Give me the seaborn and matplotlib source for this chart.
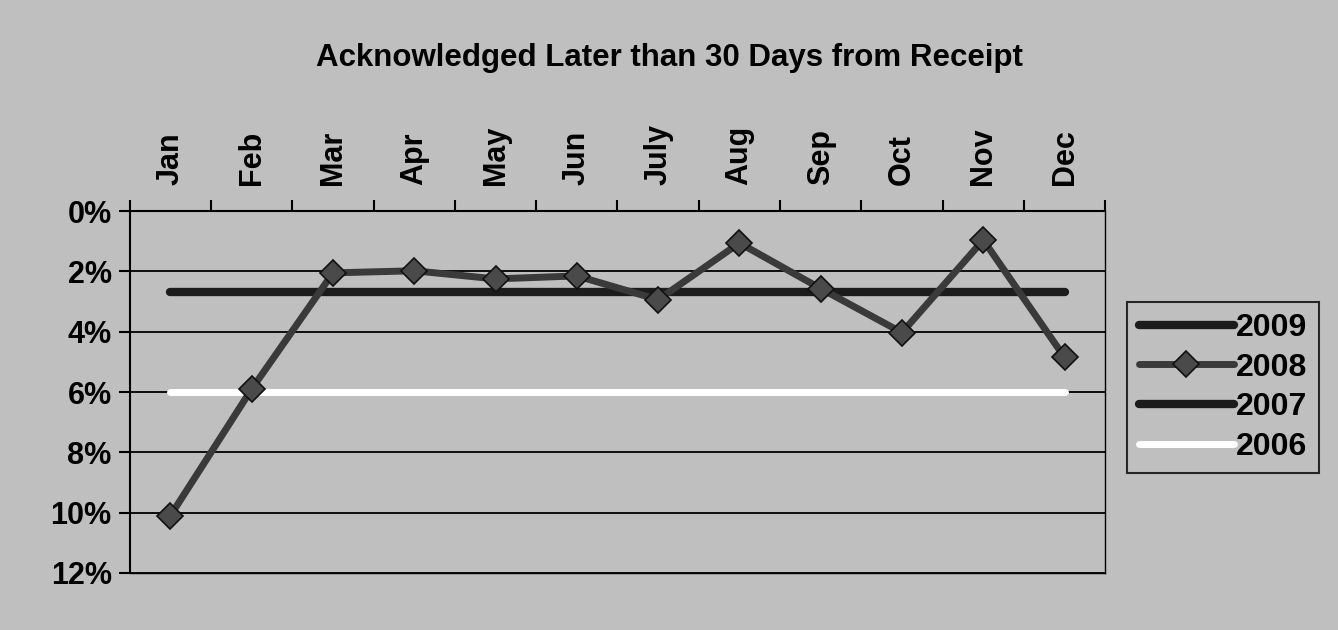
import matplotlib
matplotlib.use("Agg")
import matplotlib.pyplot as plt
import seaborn as sns
import pandas as pd
import numpy as np

months = ["Jan", "Feb", "Mar", "Apr", "May", "Jun", "July", "Aug", "Sep", "Oct", "Nov", "Dec"]
s2009 = [np.nan] * 12
s2008 = [10.1, 5.9, 2.05, 1.98, 2.25, 2.15, 2.94, 1.06, 2.57, 4.03, 0.96, 4.85]
s2007 = [2.7] * 12
s2006 = [6.0] * 12
yticks = [0, 2, 4, 6, 8, 10, 12]

sns.set_theme(style="white")
plt.rcParams["font.family"] = ["Liberation Sans", "DejaVu Sans"]
plt.rcParams["font.weight"] = "bold"
plt.rcParams["text.color"] = "black"
plt.rcParams["xtick.color"] = "black"
plt.rcParams["ytick.color"] = "black"

bg = "#bfbfbf"
fig = plt.figure(figsize=(13.38, 6.3), dpi=100, facecolor=bg)
ax = fig.add_axes([0.097, 0.0905, 0.729, 0.5745])
ax.set_facecolor(bg)

x = np.arange(len(months))
df = pd.DataFrame({"x": np.tile(x, 4),
                   "value": s2009 + s2008 + s2007 + s2006,
                   "year": ["2009"] * 12 + ["2008"] * 12 + ["2007"] * 12 + ["2006"] * 12})

for yv in yticks:
    ax.axhline(yv, color="black", lw=1.3, zorder=1)

sns.lineplot(data=df[df.year == "2006"], x="x", y="value", ax=ax, color="white", lw=5, label="2006", zorder=2)
sns.lineplot(data=df[df.year == "2007"], x="x", y="value", ax=ax, color="#1c1c1c", lw=6, label="2007", zorder=3)
sns.lineplot(data=df[df.year == "2008"], x="x", y="value", ax=ax, color="#3a3a3a", lw=5, label="2008",
             marker="D", markersize=13, markerfacecolor="#4a4a4a", markeredgecolor="#111111",
             markeredgewidth=1.2, zorder=4)
ax.plot([], [], color="#1c1c1c", lw=6, label="2009")

ax.set_xlim(-0.5, 11.5)
ax.set_ylim(12, 0)
ax.set_xlabel("")
ax.set_ylabel("")
ax.xaxis.tick_top()
ax.set_xticks(x)
ax.set_xticklabels(months, rotation=90, fontsize=22, fontweight="bold", va="bottom", color="black")
ax.set_xticks(np.arange(-0.5, 12, 1), minor=True)
ax.tick_params(axis="x", which="major", length=0, pad=18.5)
ax.tick_params(axis="x", which="minor", top=True, length=8, width=1.5, color="black", direction="out")
ax.set_yticks(yticks)
ax.set_yticklabels([f"{v}%" for v in yticks], fontsize=22, fontweight="bold", color="black")
ax.tick_params(axis="y", left=True, length=8, width=1.5, color="black", direction="out", pad=5)
for side, sp in ax.spines.items():
    sp.set_visible(True)
    sp.set_color("black")
    sp.set_linewidth(1.5 if side in ("left", "top") else 1.0)

ax.get_legend().remove()
handles, labels = ax.get_legend_handles_labels()
order = ["2009", "2008", "2007", "2006"]
hmap = dict(zip(labels, handles))
leg = fig.legend([hmap[k] for k in order], order, loc="center", bbox_to_anchor=(0.914, 0.385),
                 prop={"weight": "bold", "size": 23}, frameon=True, fancybox=False,
                 facecolor=bg, edgecolor="black", handlelength=3.0, handletextpad=0.05,
                 labelspacing=0.3, borderpad=0.35, borderaxespad=0)
leg.get_frame().set_linewidth(1.5)
for t in leg.get_texts():
    t.set_color("black")

fig.text(0.5, 0.908, "Acknowledged Later than 30 Days from Receipt", ha="center", va="center",
         fontsize=22.5, fontweight="bold", color="black")

fig.savefig("out.png", dpi=100, facecolor=bg)
